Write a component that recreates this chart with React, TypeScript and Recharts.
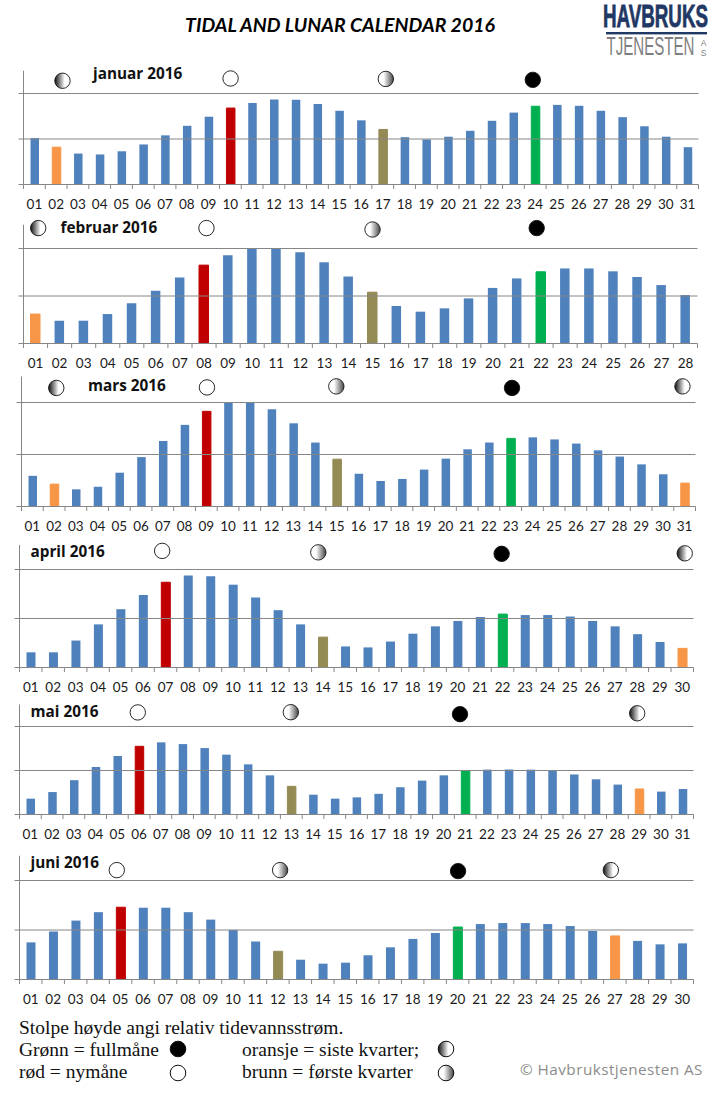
import React from "react";
import { ComposedChart, Bar, Cell, XAxis, YAxis, ReferenceLine, Scatter } from "recharts";

const JAN = [1.02,0.82,0.68,0.66,0.73,0.88,1.08,1.29,1.49,1.68,1.79,1.87,1.86,1.77,1.62,1.41,1.21,1.04,0.99,1.05,1.18,1.40,1.58,1.72,1.75,1.73,1.62,1.48,1.28,1.05,0.82];
const FEB = [0.62,0.48,0.48,0.62,0.85,1.11,1.39,1.65,1.86,1.99,2.01,1.92,1.71,1.41,1.08,0.79,0.67,0.74,0.95,1.17,1.37,1.51,1.58,1.58,1.52,1.40,1.23,1.02];
const MAR = [0.59,0.43,0.33,0.38,0.65,0.95,1.26,1.57,1.83,2.0,2.0,1.87,1.60,1.23,0.91,0.63,0.49,0.53,0.71,0.92,1.10,1.23,1.31,1.33,1.29,1.21,1.08,0.96,0.81,0.62,0.45];
const APR = [0.31,0.31,0.55,0.88,1.19,1.48,1.74,1.88,1.86,1.69,1.43,1.17,0.88,0.62,0.43,0.41,0.53,0.69,0.84,0.95,1.03,1.09,1.07,1.07,1.04,0.95,0.84,0.68,0.52,0.39];
const MAY = [0.36,0.51,0.78,1.08,1.33,1.55,1.64,1.60,1.51,1.36,1.14,0.89,0.64,0.45,0.36,0.39,0.47,0.62,0.77,0.89,1.0,1.02,1.02,1.02,1.0,0.91,0.80,0.68,0.58,0.52,0.58];
const JUN = [0.75,0.97,1.19,1.36,1.46,1.45,1.45,1.36,1.21,1.0,0.77,0.57,0.40,0.32,0.34,0.49,0.65,0.82,0.94,1.06,1.12,1.14,1.14,1.12,1.08,0.98,0.88,0.78,0.71,0.73];

const MONTH_NAMES = ["januar 2016","februar 2016","mars 2016","april 2016","mai 2016","juni 2016"];

// Marked days per month: new moon (red), first quarter (brown), full moon (green), last quarter (orange)
const NEW_DAYS = [10,8,9,7,6,5];
const FIRST_DAYS = [17,15,15,14,13,12];
const FULL_DAYS = [24,22,23,22,21,20];
const LAST_DAYS = [[2],[1],[2,31],[30],[29],[27]];

type Moon = { day: number; level: number; phase: string };
const JAN_MOONS: Moon[] = [{day:2.29,level:2.28,phase:"last"},{day:10.01,level:2.33,phase:"new"},{day:17.14,level:2.32,phase:"first"},{day:23.89,level:2.30,phase:"full"}];
const FEB_MOONS: Moon[] = [{day:1.11,level:2.43,phase:"last"},{day:8.10,level:2.43,phase:"new"},{day:15.0,level:2.40,phase:"first"},{day:21.82,level:2.43,phase:"full"}];
const MAR_MOONS: Moon[] = [{day:2.10,level:2.28,phase:"last"},{day:9.03,level:2.29,phase:"new"},{day:14.98,level:2.31,phase:"first"},{day:23.06,level:2.28,phase:"full"},{day:30.90,level:2.31,phase:"last"}];
const APR_MOONS: Moon[] = [{day:6.85,level:2.38,phase:"new"},{day:13.80,level:2.35,phase:"first"},{day:21.96,level:2.32,phase:"full"},{day:30.11,level:2.33,phase:"last"}];
const MAY_MOONS: Moon[] = [{day:5.94,level:2.32,phase:"new"},{day:12.98,level:2.325,phase:"first"},{day:20.76,level:2.28,phase:"full"},{day:28.91,level:2.30,phase:"last"}];
const JUN_MOONS: Moon[] = [{day:4.83,level:2.21,phase:"new"},{day:12.10,level:2.21,phase:"first"},{day:20.02,level:2.19,phase:"full"},{day:26.82,level:2.21,phase:"last"}];

const VALUES = [JAN,FEB,MAR,APR,MAY,JUN];
const MOONS = [JAN_MOONS,FEB_MOONS,MAR_MOONS,APR_MOONS,MAY_MOONS,JUN_MOONS];
const GRID_LEVELS = [1, 2];
const AXIS_TICKS = [0, 1, 2];

// Layout of every panel (px on the page)
const LAYOUT = [
  { left: 23.5, right: 698.5, base: 184.5, unit: 45.5, barW: 8.5, labelX: 93, labelY: 79 },
  { left: 23.5, right: 697.5, base: 343.5, unit: 47.5, barW: 9.5, labelX: 60.5, labelY: 232.7 },
  { left: 21.5, right: 695.5, base: 506.5, unit: 52, barW: 8.5, labelX: 88, labelY: 390.7 },
  { left: 19.5, right: 693.5, base: 667.5, unit: 49, barW: 9, labelX: 30.5, labelY: 557 },
  { left: 19.5, right: 693.5, base: 814.5, unit: 44, barW: 8.5, labelX: 30.5, labelY: 716.7 },
  { left: 19.5, right: 693.5, base: 979.5, unit: 49.5, barW: 9, labelX: 30.5, labelY: 867.7 },
];

const Y_MAX = 2.5;
const AXIS = "#868686";
const BLUE = "#4F81BD", RED = "#C00000", GREEN = "#00B050", ORANGE = "#F79646", BROWN = "#948A54";
const TICK_FONT = "Lato, 'Open Sans', sans-serif";

const moonFill = (phase: string) =>
  phase === "full" ? "#000" : phase === "new" ? "#fff" : phase === "last" ? "url(#moonLast)" : "url(#moonFirst)";

const MoonShape = (props: any) => {
  const phase = props.payload?.phase ?? props.phase;
  return <circle cx={props.cx} cy={props.cy} r={7.7} fill={moonFill(phase)} stroke="#111" strokeWidth={0.9} />;
};

const EmptyTick = () => <g />;

function dayColor(m: number, day: number) {
  if (NEW_DAYS[m] === day) return RED;
  if (FIRST_DAYS[m] === day) return BROWN;
  if (FULL_DAYS[m] === day) return GREEN;
  if (LAST_DAYS[m].includes(day)) return ORANGE;
  return BLUE;
}

function MonthChart({ m }: { m: number }) {
  const L = LAYOUT[m];
  const vals = VALUES[m];
  const n = vals.length;
  const band = (L.right - L.left) / n;
  const plotH = Y_MAX * L.unit;
  const top = L.base - plotH;
  const svgTop = Math.floor(top) - 12;
  const height = Math.ceil(L.base) + 30 - svgTop;
  const marginTop = top - svgTop;
  const data = vals.map((v, i) => ({ day: String(i + 1).padStart(2, "0"), value: v }));

  const tick = (p: any) => (
    <g>
      <line x1={p.x - band / 2} x2={p.x - band / 2} y1={p.y} y2={p.y + 4.5} stroke={AXIS} />
      {p.index === n - 1 && <line x1={p.x + band / 2} x2={p.x + band / 2} y1={p.y} y2={p.y + 4.5} stroke={AXIS} />}
      <text x={p.x} y={p.y + 24} textAnchor="middle" fontSize={13.5} fontFamily={TICK_FONT} fill="#1a1a1a">{p.payload.value}</text>
    </g>
  );

  return (
    <div style={{ position: "absolute", left: 0, top: svgTop }}>
      <ComposedChart
        width={724}
        height={height}
        data={data}
        barCategoryGap={0}
        margin={{ top: marginTop, left: L.left - 1, right: 724 - L.right, bottom: 0 }}
      >
        <XAxis dataKey="day" type="category" interval={0} height={height - marginTop - plotH} tickSize={0} tickMargin={0} tickLine={false} axisLine={{ stroke: AXIS }} tick={tick} />
        <XAxis xAxisId="moon" type="number" dataKey="day" domain={[0.5, n + 0.5]} hide />
        <YAxis domain={[0, Y_MAX]} ticks={AXIS_TICKS} interval={0} width={1} tick={EmptyTick} tickSize={5} tickLine={{ stroke: AXIS }} axisLine={{ stroke: AXIS }} />
        <YAxis yAxisId="moon" type="number" dataKey="level" domain={[0, Y_MAX]} hide />
        {GRID_LEVELS.map((g) => <ReferenceLine key={g} y={g} stroke={AXIS} strokeWidth={1} ifOverflow="visible" />)}
        <Bar dataKey="value" barSize={L.barW} fill={BLUE} isAnimationActive={false}>
          {data.map((d, i) => {
            const c = dayColor(m, i + 1);
            return <Cell key={d.day} fill={c} stroke={c} strokeWidth={c === BLUE ? 0 : 1} />;
          })}
        </Bar>
        <Scatter data={MOONS[m]} xAxisId="moon" yAxisId="moon" shape={MoonShape} isAnimationActive={false} />
      </ComposedChart>
    </div>
  );
}

export default function App() {
  const serif = "'Liberation Serif', serif";
  const narrow = "'Liberation Sans Narrow', 'Liberation Sans', sans-serif";
  return (
    <div style={{ position: "absolute", left: 0, top: 0, width: 724, height: 1093, background: "#fff", overflow: "hidden" }}>
      <svg width={0} height={0} style={{ position: "absolute" }}>
        <defs>
          <linearGradient id="moonLast" x1="0" x2="1" y1="0" y2="0">
            <stop offset="0" stopColor="#111" />
            <stop offset="0.65" stopColor="#fff" />
          </linearGradient>
          <linearGradient id="moonFirst" x1="0" x2="1" y1="0" y2="0">
            <stop offset="0.35" stopColor="#fff" />
            <stop offset="1" stopColor="#444" />
          </linearGradient>
        </defs>
      </svg>
      {LAYOUT.map((_, m) => <MonthChart key={m} m={m} />)}
      <svg width={724} height={1093} style={{ position: "absolute", left: 0, top: 0, pointerEvents: "none" }}>
        <text x={340} y={32} textAnchor="middle" fontFamily="Lato, sans-serif" fontWeight={700} fontStyle="italic" fontSize={19.5} fill="#000">TIDAL AND LUNAR CALENDAR 2016</text>
        {LAYOUT.map((L, m) => (
          <text key={m} x={L.labelX} y={L.labelY} fontFamily="'Open Sans', sans-serif" fontWeight={700} fontSize={15.3} fill="#111">{MONTH_NAMES[m]}</text>
        ))}
        {/* logo */}
        <text transform="translate(603,27) scale(1,1.62)" fontFamily={narrow} fontWeight={700} fontSize={18.9} fill="#1F3864" stroke="#1F3864" strokeWidth={0.5} textLength={105} lengthAdjust="spacingAndGlyphs">HAVBRUKS</text>
        <rect x={606} y={32} width={101} height={2.4} fill="#1F3864" />
        <text transform="translate(606.5,55) scale(1,1.7)" fontFamily={narrow} fontSize={14.7} fill="#7F7F7F" textLength={88} lengthAdjust="spacingAndGlyphs">TJENESTEN</text>
        <text x={703.5} y={46} textAnchor="middle" fontFamily={narrow} fontSize={8.5} fill="#7F7F7F">A</text>
        <text x={703.5} y={56} textAnchor="middle" fontFamily={narrow} fontSize={8.5} fill="#7F7F7F">S</text>
        {/* notes */}
        <text x={19} y={1034} fontFamily={serif} fontSize={19.5} fill="#111">Stolpe høyde angi relativ tidevannsstrøm.</text>
        <text x={19} y={1056} fontFamily={serif} fontSize={19.5} fill="#111">Grønn = fullmåne</text>
        <text x={19} y={1078} fontFamily={serif} fontSize={19.5} fill="#111">rød = nymåne</text>
        <text x={242} y={1056} fontFamily={serif} fontSize={19.5} fill="#111">oransje = siste kvarter;</text>
        <text x={242} y={1078} fontFamily={serif} fontSize={19.5} fill="#111">brunn = første kvarter</text>
        <circle cx={178} cy={1049} r={7.8} fill="#000" stroke="#111" />
        <circle cx={178} cy={1073} r={7.8} fill="#fff" stroke="#111" />
        <circle cx={446} cy={1049} r={7.8} fill="url(#moonLast)" stroke="#111" />
        <circle cx={446} cy={1073} r={7.8} fill="url(#moonFirst)" stroke="#111" />
        <text x={520} y={1075} fontFamily="'Open Sans', sans-serif" fontSize={15.3} fill="#8C8C8C" letterSpacing={0.45}>© Havbrukstjenesten AS</text>
      </svg>
    </div>
  );
}
